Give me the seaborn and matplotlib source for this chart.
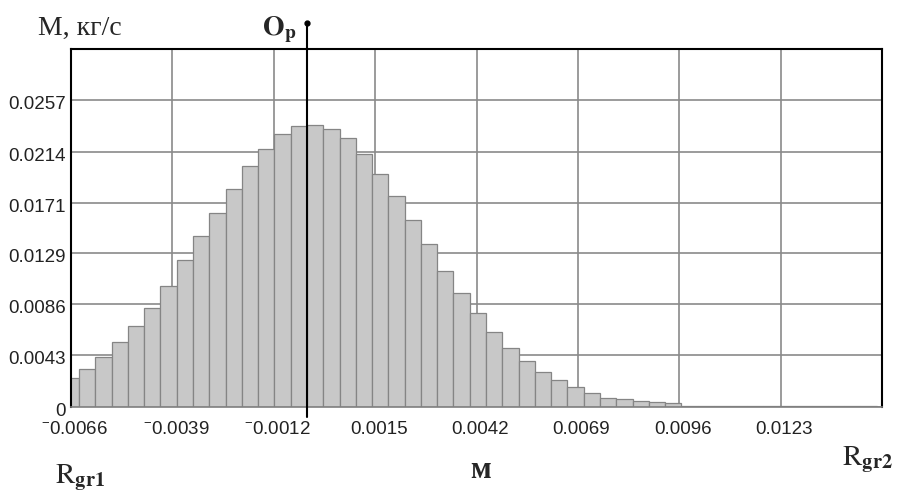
import numpy as np
import pandas as pd
import matplotlib
matplotlib.use("Agg")
import matplotlib.pyplot as plt
import matplotlib.transforms as mtransforms
import seaborn as sns


OUTPUT_PATH = "out.png"

# histogram bins (uniform grid) and bar heights
HIST_START = -0.00682
BIN_WIDTH = 0.0004336

bar_heights = [
    0.00238, 0.00314, 0.00420, 0.00543, 0.00680, 0.00826, 0.01015, 0.01231,
    0.01433, 0.01623, 0.01827, 0.02015, 0.02161, 0.02289, 0.02354, 0.02359,
    0.02325, 0.02250, 0.02119, 0.01953, 0.01763, 0.01567, 0.01363, 0.01142,
    0.00952, 0.00789, 0.00627, 0.00490, 0.00381, 0.00291, 0.00226, 0.00163,
    0.00116, 0.00070, 0.00062, 0.00048, 0.00037, 0.00035,
    0.00008, 0.00008, 0.00008, 0.00008, 0.00008, 0.00008,
    0.00008, 0.00008, 0.00008, 0.00008, 0.00008, 0.00008,
]

op_value = -0.00032

x_ticks = [-0.0066, -0.0039, -0.0012, 0.0015, 0.0042, 0.0069, 0.0096, 0.0123]
x_tick_labels = [r"$^{-}$0.0066", r"$^{-}$0.0039", r"$^{-}$0.0012", "0.0015",
                 "0.0042", "0.0069", "0.0096", "0.0123"]
y_ticks = [0, 0.0043, 0.0086, 0.0129, 0.0171, 0.0214, 0.0257]
y_tick_labels = ["0", "0.0043", "0.0086", "0.0129", "0.0171", "0.0214", "0.0257"]

X_MIN, X_MAX = -0.0066, 0.0150
Y_MIN, Y_MAX = 0.0, 0.0300


def plot_histogram():

    sns.set_style("white")
    plt.rcParams["font.family"] = ["Liberation Sans", "DejaVu Sans"]
    plt.rcParams["mathtext.fontset"] = "custom"
    plt.rcParams["mathtext.rm"] = "Liberation Sans"
    plt.rcParams["mathtext.default"] = "rm"

    fig = plt.figure(figsize=(9, 4.95), dpi=100)
    ax = fig.add_axes([0.0789, 0.1784, 0.9011, 0.7226])

    edges = HIST_START + BIN_WIDTH * np.arange(len(bar_heights) + 1)
    hist_df = pd.DataFrame({
        "x": edges[:-1] + BIN_WIDTH / 2,
        "w": bar_heights,
    })

    sns.histplot(
        data=hist_df,
        x="x",
        weights="w",
        bins=list(edges),
        color="#c8c8c8",
        edgecolor="#858585",
        linewidth=0.9,
        alpha=1,
        ax=ax
    )

    ax.set_xlim(X_MIN, X_MAX)
    ax.set_ylim(Y_MIN, Y_MAX)
    ax.set_xlabel("")
    ax.set_ylabel("")

    ax.set_axisbelow(True)
    ax.grid(True, color="#8a8a8a", linewidth=1.2)

    ax.set_xticks(x_ticks)
    ax.set_xticklabels(x_tick_labels, fontsize=13.5, color="#222222")
    ax.set_yticks(y_ticks)
    ax.set_yticklabels(y_tick_labels, fontsize=13.5, color="#222222")
    ax.tick_params(axis="x", length=0, pad=10.5)
    ax.tick_params(axis="y", length=0, pad=3.6)

    shift = mtransforms.ScaledTranslation(3.5 / 100, 0, fig.dpi_scale_trans)
    for lab in ax.get_xticklabels():
        lab.set_transform(lab.get_transform() + shift)
    yshift = mtransforms.ScaledTranslation(0, -2.5 / 100, fig.dpi_scale_trans)
    for lab in ax.get_yticklabels():
        lab.set_transform(lab.get_transform() + yshift)

    for side in ["left", "top", "right"]:
        ax.spines[side].set_color("black")
        ax.spines[side].set_linewidth(1.5)
    ax.spines["bottom"].set_color("#7f7f7f")
    ax.spines["bottom"].set_linewidth(1.2)

    # O_p marker line
    ax.plot([op_value, op_value], [-0.00084, 0.0322],
            color="black", linewidth=1.5, clip_on=False, zorder=4)
    ax.plot([op_value], [0.0322], "o", color="black", markersize=3.5,
            clip_on=False, zorder=4)

    serif = ["Liberation Serif", "DejaVu Serif"]
    fig.text(38 / 900, 1 - 35 / 495, "M, кг/с", fontsize=20,
             family=serif, ha="left", va="baseline")
    fig.text(262 / 900, 1 - 35 / 495, r"$\mathbf{O_p}$", fontsize=20,
             ha="left", va="baseline", math_fontfamily="stix")
    fig.text(55 / 900, 1 - 483 / 495, r"$\mathrm{R}_{\mathbf{gr1}}$",
             fontsize=21, ha="left", va="baseline", math_fontfamily="stix")
    fig.text(842 / 900, 1 - 465 / 495, r"$\mathrm{R}_{\mathbf{gr2}}$",
             fontsize=21, ha="left", va="baseline", math_fontfamily="stix")
    fig.text(481 / 900, 1 - 478 / 495, "м", fontsize=22, fontweight="bold",
             family=serif, ha="center", va="baseline")

    fig.savefig(OUTPUT_PATH, dpi=100)


if __name__ == "__main__":

    plot_histogram()
